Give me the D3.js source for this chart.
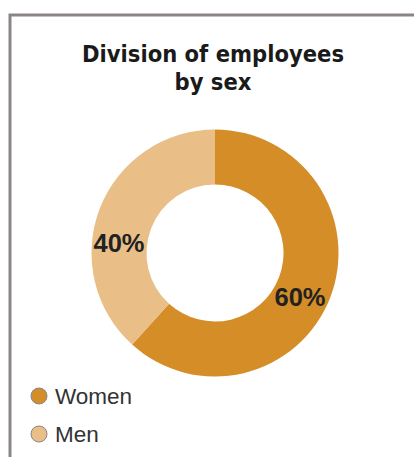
<!DOCTYPE html>
<html><head><meta charset="utf-8">
<script src="https://cdn.jsdelivr.net/npm/d3@7"></script>
<style>body{margin:0;background:#fff}</style>
</head><body>
<svg id="c" width="414" height="457"></svg>
<script>
const categories = ["Women", "Men"];
const values = [61.7, 38.3];
const labels = ["60%", "40%"];
const colors = ["#D58D28", "#E9BF87"];
const titleLines = ["Division of employees", "by sex"];

const svg = d3.select("#c");
// frame
svg.append("path").attr("d", "M10,470 L10,15 L420,15")
  .attr("fill", "none").attr("stroke", "#8c8585").attr("stroke-width", 3);

svg.append("text").attr("x", 213).attr("text-anchor", "middle")
  .attr("font-family", "'DejaVu Sans Condensed', 'DejaVu Sans'").attr("font-weight", "bold")
  .attr("font-size", 23.5).attr("fill", "#1a1a1a")
  .selectAll("tspan").data(titleLines).join("tspan")
  .attr("x", 213).attr("y", (d, i) => 62 + i * 28).text(d => d);

const cx = 215, cy = 253, rOut = 123.5, rIn = 68.5;
const pie = d3.pie().sort(null).value(d => d)(values);
const arc = d3.arc().innerRadius(rIn).outerRadius(rOut);
const g = svg.append("g").attr("transform", `translate(${cx},${cy})`);
g.selectAll("path").data(pie).join("path").attr("d", arc).attr("fill", (d, i) => colors[i]);

const labelShift = [[-4.6, 10], [-6.4, 25]];
g.selectAll("text").data(pie).join("text")
  .attr("x", (d, i) => arc.centroid(d)[0] + labelShift[i][0])
  .attr("y", (d, i) => arc.centroid(d)[1] + labelShift[i][1])
  .attr("dy", "0.35em").attr("text-anchor", "middle")
  .attr("font-family", "'Liberation Sans', Arial").attr("font-weight", "bold")
  .attr("font-size", 25.5).attr("fill", "#222")
  .text((d, i) => labels[i]);

const lg = svg.append("g");
categories.forEach((c, i) => {
  const y = 396 + i * 38;
  lg.append("circle").attr("cx", 39).attr("cy", y).attr("r", 8)
    .attr("fill", colors[i]).attr("stroke", "#8c8585").attr("stroke-width", 1);
  lg.append("text").attr("x", 55).attr("y", y).attr("dy", "0.35em")
    .attr("font-family", "'Liberation Sans', Arial").attr("font-size", 22.5)
    .attr("fill", "#333").text(c);
});
</script>
</body></html>
